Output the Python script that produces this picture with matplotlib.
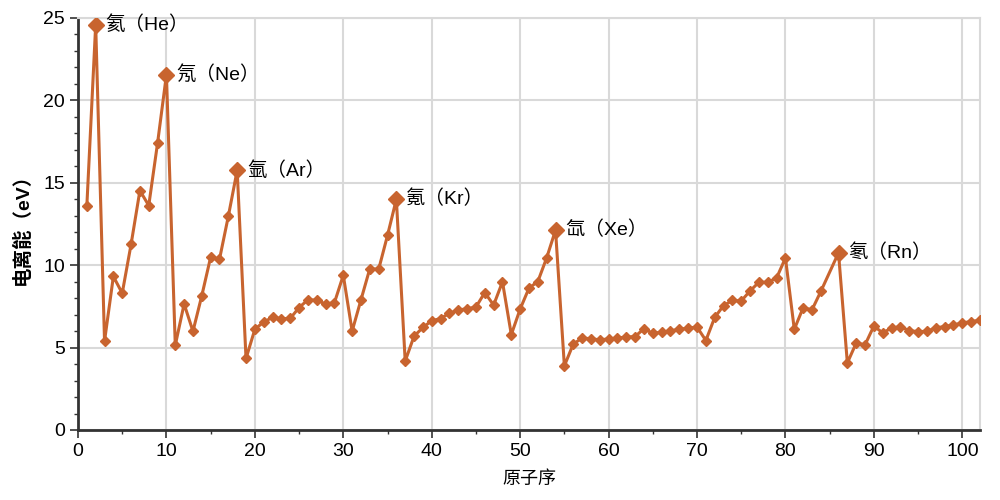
import numpy as np
import matplotlib
matplotlib.use("Agg")
import matplotlib.pyplot as plt
from matplotlib.ticker import MultipleLocator

plt.rcParams['font.family'] = ['Liberation Sans', 'Noto Sans CJK SC', 'DejaVu Sans']

# 原子序数 1-84, 86-102（85 缺数据）
z = list(range(1, 85)) + list(range(86, 103))
energy = [
    13.60, 24.59, 5.39, 9.32, 8.30, 11.26, 14.53, 13.62, 17.42, 21.56,
    5.14, 7.65, 5.99, 8.15, 10.49, 10.36, 12.97, 15.76, 4.34, 6.11,
    6.56, 6.83, 6.75, 6.77, 7.43, 7.90, 7.88, 7.64, 7.73, 9.39,
    6.00, 7.90, 9.79, 9.75, 11.81, 14.00, 4.18, 5.69, 6.22, 6.63,
    6.76, 7.09, 7.28, 7.36, 7.46, 8.34, 7.58, 8.99, 5.79, 7.34,
    8.61, 9.01, 10.45, 12.13, 3.89, 5.21, 5.58, 5.54, 5.47, 5.53,
    5.58, 5.64, 5.67, 6.15, 5.86, 5.94, 6.02, 6.11, 6.18, 6.25,
    5.43, 6.83, 7.55, 7.86, 7.83, 8.44, 8.97, 8.96, 9.23, 10.44,
    6.11, 7.42, 7.29, 8.41,
    10.75, 4.07, 5.28, 5.17, 6.31, 5.89, 6.19, 6.27, 6.03, 5.97,
    5.99, 6.20, 6.28, 6.37, 6.50, 6.58, 6.66,
]

# 稀有气体
noble_z = [2, 10, 18, 36, 54, 86]
noble_names = ['氦（He）', '氖（Ne）', '氩（Ar）', '氪（Kr）', '氙（Xe）', '氡（Rn）']

color = '#c8642f'

fig = plt.figure(figsize=(10, 5), dpi=100)
ax = fig.add_axes([0.078, 0.14, 0.902, 0.824])

ax.plot(z, energy, color=color, lw=2.2, marker='D', markersize=5, zorder=3)
noble_e = [energy[z.index(n)] for n in noble_z]
ax.plot(noble_z, noble_e, ls='none', marker='D', markersize=8, color=color, zorder=4)
for n, e, name in zip(noble_z, noble_e, noble_names):
    ax.annotate(name, (n, e), xytext=(7, 0), textcoords='offset points',
                va='center', ha='left', fontsize=14, color='black')

ax.set_xlim(0, 102)
ax.set_ylim(0, 25)
ax.xaxis.set_major_locator(MultipleLocator(10))
ax.xaxis.set_minor_locator(MultipleLocator(5))
ax.yaxis.set_major_locator(MultipleLocator(5))
ax.yaxis.set_minor_locator(MultipleLocator(1))

ax.grid(True, which='major', color='#d9d9d9', lw=1.5)
ax.set_axisbelow(True)

for s in ['left', 'bottom']:
    ax.spines[s].set_color('#333333')
    ax.spines[s].set_linewidth(2)
for s in ['top', 'right']:
    ax.spines[s].set_color('#d9d9d9')
    ax.spines[s].set_linewidth(1.5)

ax.tick_params(which='major', length=6, width=1.2, color='#333333', labelsize=14)
ax.tick_params(which='minor', length=3, width=1, color='#333333')

ax.set_xlabel('原子序', fontsize=13, labelpad=8)
ax.set_ylabel('电离能（eV）', fontsize=14, fontweight='bold', labelpad=8)

fig.savefig('out.png', dpi=100)
